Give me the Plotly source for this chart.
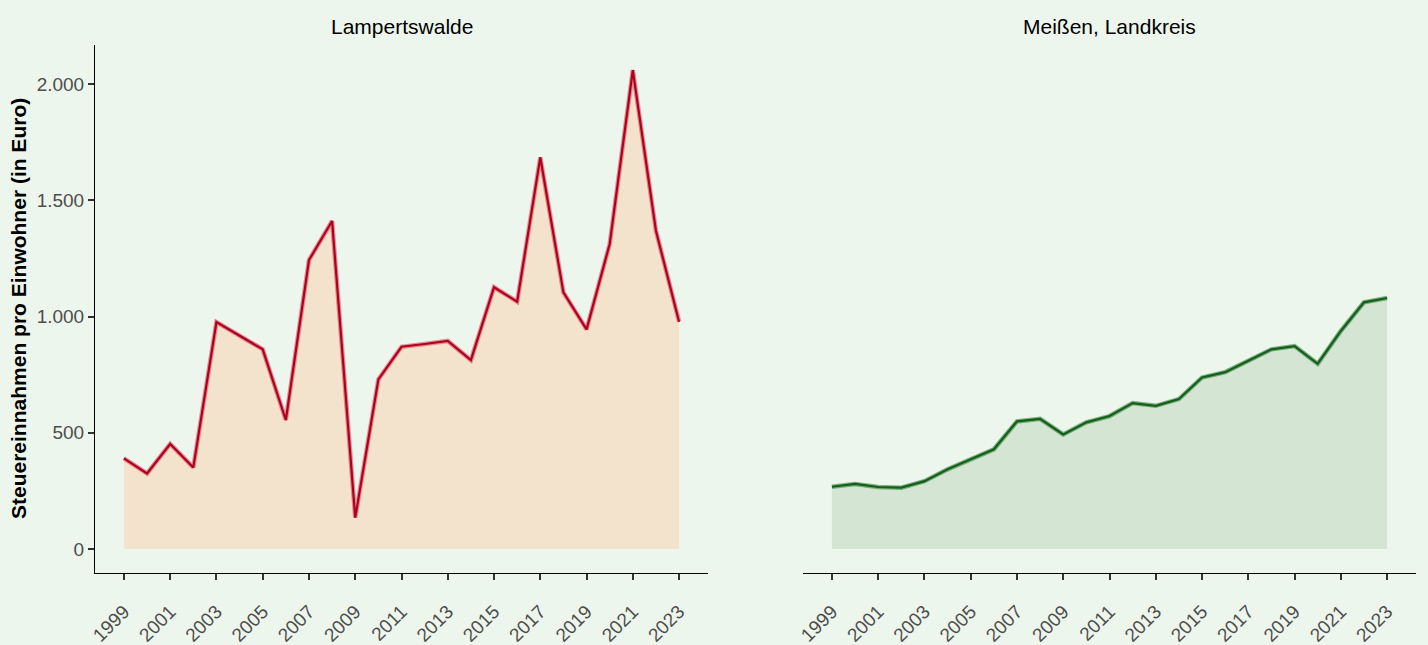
import plotly.graph_objects as go

years = list(range(1999, 2024))
lampertswalde = [390, 325, 452, 351, 976, 918, 859, 555, 1243, 1411, 135, 730, 870, 882, 895,
                 813, 1126, 1064, 1685, 1104, 945, 1312, 2060, 1369, 978]
meissen = [268, 280, 267, 264, 292, 343, 386, 429, 549, 560, 493, 545, 572, 628, 616,
           645, 738, 761, 810, 859, 873, 797, 938, 1061, 1080]
panel_titles = ["Lampertswalde", "Meißen, Landkreis"]
y_title = "Steuereinnahmen pro Einwohner (in Euro)"
y_ticks = [0, 500, 1000, 1500, 2000]
x_ticks = list(range(1999, 2024, 2))

BG = "#EDF6EC"
FONT = "Liberation Sans, Arial"
fig = go.Figure()

def add_panel(xaxis, yaxis, values, fill, halo, core):
    fig.add_trace(go.Scatter(x=years, y=values, xaxis=xaxis, yaxis=yaxis, mode="lines",
                             fill="tozeroy", fillcolor=fill, line=dict(width=0),
                             hoverinfo="skip", showlegend=False))
    fig.add_trace(go.Scatter(x=years, y=values, xaxis=xaxis, yaxis=yaxis, mode="lines",
                             line=dict(color=halo, width=4.5), hoverinfo="skip", showlegend=False))
    fig.add_trace(go.Scatter(x=years, y=values, xaxis=xaxis, yaxis=yaxis, mode="lines",
                             line=dict(color=core, width=2.2), showlegend=False))

add_panel("x", "y", lampertswalde, "#F4E3CC", "rgba(214,60,85,0.55)", "#B0001E")
add_panel("x2", "y2", meissen, "#D4E5D3", "rgba(40,120,45,0.55)", "#12601A")

W, H = 1428, 645
dom_y = [1 - 573 / H, 1 - 45 / H]
xr = [1997.75, 2024.25]
yr = [-103, 2168]

xcommon = dict(range=xr, tickvals=x_ticks, ticktext=[str(t) for t in x_ticks], tickangle=-45,
               ticks="outside", ticklen=6, tickwidth=2, tickcolor="#333333",
               ticklabelstandoff=13, automargin=False,
               showline=True, linecolor="black", linewidth=1, showgrid=False, zeroline=False,
               tickfont=dict(family=FONT, size=19, color="#4D4D4D"))

fig.update_layout(
    width=W, height=H,
    paper_bgcolor=BG, plot_bgcolor=BG,
    margin=dict(l=0, r=0, t=0, b=0, autoexpand=False),
    separators=",.",
    xaxis=dict(domain=[95 / W, 708 / W], anchor="y", **xcommon),
    xaxis2=dict(domain=[803 / W, 1416 / W], anchor="y2", **xcommon),
    yaxis=dict(domain=dom_y, range=yr, tickvals=y_ticks, tickformat=",d", automargin=False,
               ticks="outside", ticklen=6, tickwidth=2, tickcolor="#333333",
               showline=True, linecolor="black", linewidth=1, showgrid=False, zeroline=False,
               tickfont=dict(family=FONT, size=19, color="#4D4D4D")),
    yaxis2=dict(domain=dom_y, range=yr, anchor="x2", showticklabels=False, ticks="",
                automargin=False, showline=False, showgrid=False, zeroline=False),
    font=dict(family=FONT),
)

for title, cx in zip(panel_titles, [401.5 / W, 1109.5 / W]):
    fig.add_annotation(text=title, x=cx, y=1 - 26 / H, xref="paper", yref="paper",
                       showarrow=False, xanchor="center", yanchor="middle",
                       font=dict(size=21, color="black", family=FONT))

fig.add_annotation(text="<b>" + y_title + "</b>", x=18 / W, y=1 - 309 / H, xref="paper", yref="paper",
                   showarrow=False, textangle=-90, xanchor="center", yanchor="middle",
                   font=dict(size=21, color="black", family=FONT))

fig.write_html("out.html", config={"displayModeBar": False},
               post_script="document.body.style.margin='0';")
